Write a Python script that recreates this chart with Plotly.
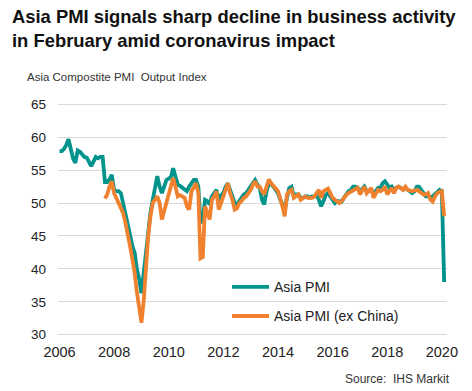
import pandas as pd
import plotly.graph_objects as go

# ---- data (monthly) ----
asia_pmi = [
    # 2006
    57.9, 57.9, 58.2, 58.8, 59.7, 58.0, 56.8, 56.1, 58.0, 57.8, 57.4, 57.0,
    # 2007
    56.9, 56.3, 55.6, 56.3, 57.0, 56.8, 57.0, 57.0, 53.2, 53.2, 53.6, 54.3,
    # 2008
    52.0, 51.8, 51.8, 51.5, 50.0, 48.8, 47.0, 45.2, 43.5, 42.5, 40.0, 38.5,
    # 2009
    36.3, 39.8, 42.5, 45.4, 48.5, 50.5, 52.5, 54.1, 52.5, 51.5, 52.5, 53.5,
    # 2010
    53.7, 54.0, 55.3, 54.0, 52.8, 52.6, 52.3, 52.0, 51.8, 52.5, 53.0, 53.5,
    # 2011
    53.5, 52.5, 47.0, 47.5, 50.5, 50.3, 49.8, 51.0, 51.5, 52.0, 50.0, 51.2,
    # 2012
    51.5, 52.5, 53.0, 52.0, 51.3, 50.0, 49.8, 50.3, 50.8, 51.3, 51.5, 52.0,
    # 2013
    52.5, 53.2, 53.5, 52.8, 52.3, 50.5, 49.8, 51.8, 53.0, 52.8, 52.5, 52.0,
    # 2014
    51.5, 50.5, 49.8, 49.0, 50.8, 52.3, 52.5, 51.0, 51.3, 51.3, 50.8, 50.8,
    # 2015
    51.0, 51.0, 50.8, 51.0, 51.0, 51.2, 50.5, 49.5, 50.3, 51.2, 51.5, 51.0,
    # 2016
    50.5, 50.0, 50.3, 50.3, 50.2, 50.8, 51.3, 51.8, 52.0, 52.5, 52.5, 52.3,
    # 2017
    51.8, 52.3, 52.5, 51.8, 51.8, 52.0, 51.5, 51.8, 52.3, 52.3, 53.0, 53.3,
    # 2018
    52.8, 52.3, 52.5, 52.0, 52.3, 52.5, 52.3, 52.0, 52.3, 52.0, 51.8, 51.5,
    # 2019
    51.8, 52.5, 52.5, 52.0, 51.3, 51.0, 51.0, 50.8, 51.0, 51.3, 51.8, 52.0,
    # 2020
    51.8, 38.0,
]
asia_pmi_start = "2006-01-01"

asia_ex_china = [
    # 2007 (Sep-Dec)
    50.7, 51.3, 52.5, 53.3,
    # 2008
    51.5, 50.7, 50.0, 49.5, 48.5, 47.0, 45.5, 43.5, 41.5, 39.5, 36.5, 34.5,
    # 2009
    31.8, 35.3, 41.0, 45.0, 48.0, 50.0, 50.5, 51.0, 50.0, 47.5, 48.8, 50.0,
    # 2010
    51.0, 52.3, 53.8, 52.5, 51.0, 51.2, 51.0, 50.8, 49.5, 49.0, 51.8, 52.5,
    # 2011
    53.0, 51.5, 41.6, 41.8, 49.5, 48.5, 47.5, 50.5, 51.0, 51.8, 49.0, 50.0,
    # 2012
    51.0, 52.0, 53.0, 51.5, 50.5, 49.0, 49.2, 50.0, 50.3, 50.8, 51.0, 51.5,
    # 2013
    52.0, 52.8, 53.3, 52.5, 52.5, 51.8, 51.3, 52.5, 53.6, 53.0, 52.5, 52.2,
    # 2014
    51.8, 50.8, 49.5, 48.0, 51.3, 51.8, 52.0, 50.8, 51.0, 51.3, 50.5, 50.8,
    # 2015
    51.0, 50.8, 50.8, 50.8, 51.0, 51.5, 52.0, 50.8, 51.8, 52.0, 52.2, 51.5,
    # 2016
    50.8, 50.5, 50.2, 50.0, 50.3, 50.8, 51.2, 51.5, 51.7, 51.8, 52.0, 52.3,
    # 2017
    51.3, 51.8, 52.5, 51.5, 51.8, 52.3, 50.8, 51.5, 52.0, 51.8, 52.0, 52.5,
    # 2018
    51.3, 51.8, 52.3, 51.5, 52.3, 52.5, 52.3, 52.0, 52.5, 52.0, 51.9, 51.8,
    # 2019
    51.9, 52.0, 51.8, 51.5, 51.3, 51.3, 51.5, 50.5, 50.2, 51.0, 51.5, 51.7,
    # 2020
    51.8, 48.0,
]
asia_ex_china_start = "2007-09-01"

year_ticks = ["2006", "2008", "2010", "2012", "2014", "2016", "2018", "2020"]

dates_asia = pd.date_range(asia_pmi_start, periods=len(asia_pmi), freq="MS")
dates_ex = pd.date_range(asia_ex_china_start, periods=len(asia_ex_china), freq="MS")

FONT = "Liberation Sans, Arial, sans-serif"
TEAL = "#00948c"
ORANGE = "#f0822f"

fig = go.Figure()
fig.add_trace(go.Scatter(
    x=dates_asia, y=asia_pmi, mode="lines", name="Asia PMI",
    legendgroup="a", line=dict(color=TEAL, width=3.8),
))
fig.add_trace(go.Scatter(
    x=dates_ex, y=asia_ex_china, mode="lines", name="Asia PMI (ex China)",
    legendgroup="b", line=dict(color=ORANGE, width=3.8),
))

L, R, T, B = 58, 25, 103.4, 55.4
W, H = 472, 391
pw = W - L - R
ph = H - T - B

def px_x(px):
    return (px - L) / pw

def px_y(py):
    return (H - B - py) / ph

fig.update_layout(
    width=W, height=H,
    margin=dict(l=L, r=R, t=T, b=B, pad=0),
    paper_bgcolor="white", plot_bgcolor="white",
    font=dict(family=FONT, color="#222"),
    title=dict(
        text="<b>Asia PMI signals sharp decline in business activity<br>in February amid coronavirus impact</b>",
        font=dict(family=FONT, size=18.4, color="#111"),
        x=12 / W, xref="container", xanchor="left",
        y=1 - 23 / H, yref="container", yanchor="top",
    ),
    xaxis=dict(
        type="date",
        range=["2005-12-12", "2020-03-10"],
        tickvals=[f"{y}-01-01" for y in year_ticks],
        ticktext=year_ticks,
        showgrid=False, showline=False, zeroline=False, ticks="",
        tickfont=dict(family=FONT, size=14.5, color="#222"),
        ticklabelstandoff=5,
    ),
    yaxis=dict(
        range=[29.8, 65.2], tick0=0, dtick=5,
        showgrid=True, gridcolor="#d9d9d9", gridwidth=1,
        showline=False, zeroline=False, ticks="",
        tickfont=dict(family=FONT, size=13.5, color="#222"),
        ticklabelstandoff=11,
    ),
    showlegend=True,
    legend=dict(
        x=px_x(227), y=px_y(271), xanchor="left", yanchor="top",
        bgcolor="rgba(0,0,0,0)", borderwidth=0,
        font=dict(family=FONT, size=14, color="#222"),
        traceorder="grouped", tracegroupgap=8,
        itemwidth=37,
    ),
    annotations=[
        dict(text="Asia Compostite PMI  Output Index", xref="paper", yref="paper",
             x=px_x(25), y=px_y(77), xanchor="left", yanchor="middle",
             showarrow=False, font=dict(family=FONT, size=11.5, color="#333")),
        dict(text="Source:  IHS Markit", xref="paper", yref="paper",
             x=px_x(452), y=px_y(378), xanchor="right", yanchor="middle",
             showarrow=False, font=dict(family=FONT, size=12, color="#333")),
    ],
)

fig.write_html(
    "out.html",
    config={"displayModeBar": False},
    post_script="document.body.style.margin='0';document.body.style.padding='0';",
)
